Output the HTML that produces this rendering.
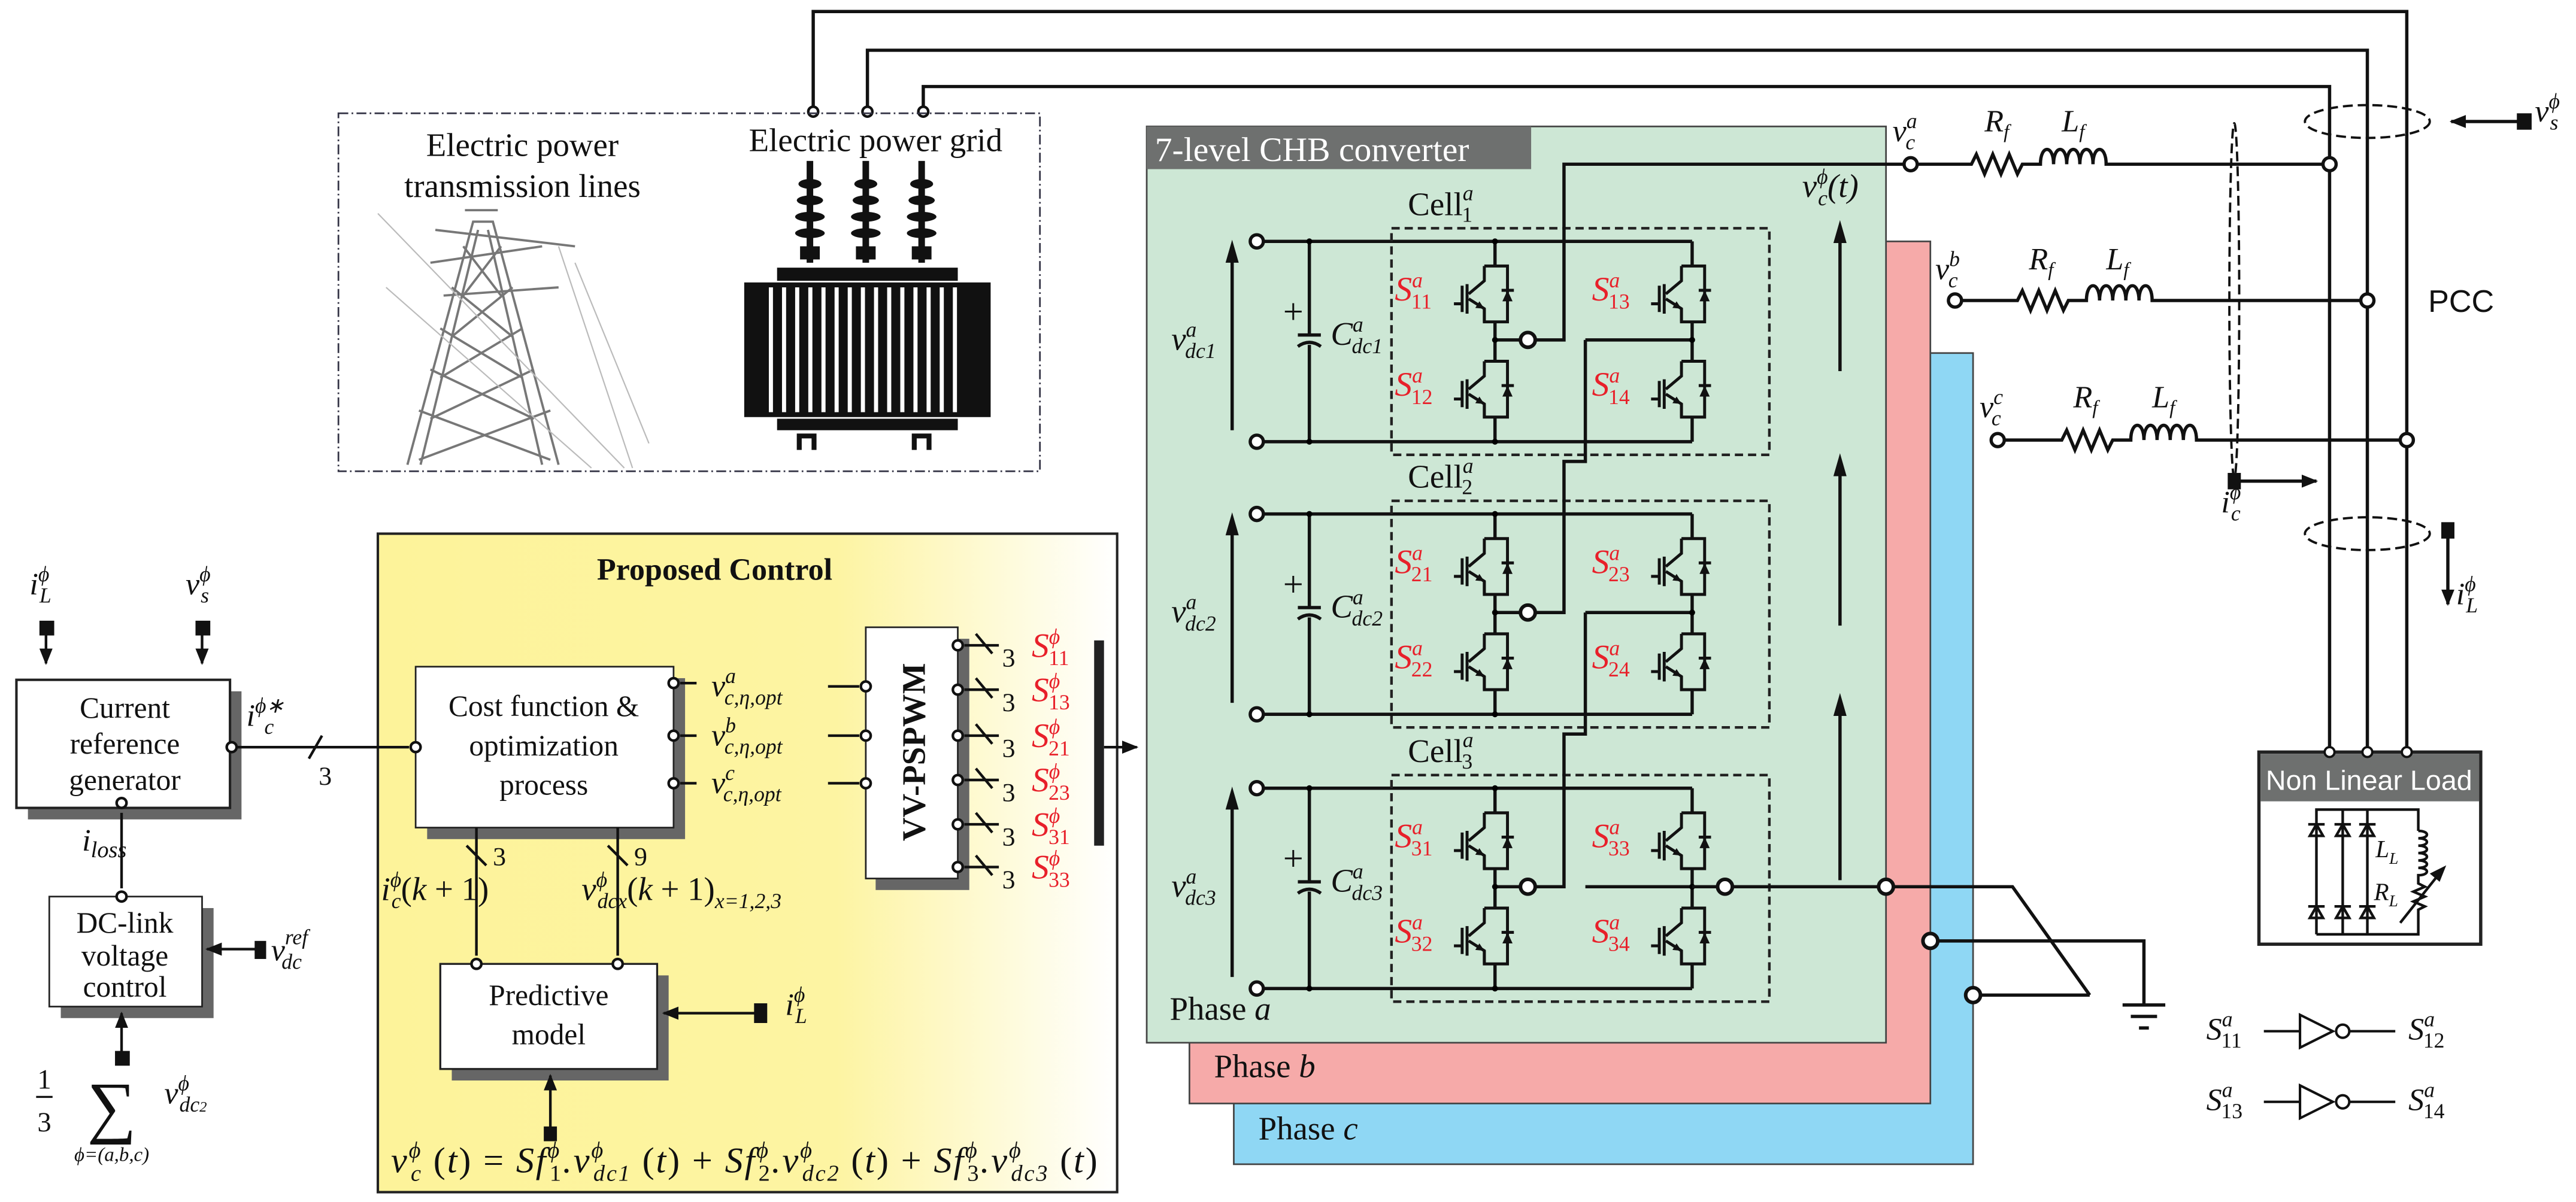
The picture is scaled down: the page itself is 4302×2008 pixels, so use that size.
<!DOCTYPE html>
<html><head><meta charset="utf-8"><style>
html,body{margin:0;padding:0;background:#fff}
svg{display:block}
text{font-family:"Liberation Serif",serif;fill:#111}
.i{font-style:italic}
g.r text, text.r{fill:#e8202a}
.s{font-family:"Liberation Sans",sans-serif}
</style></head><body>
<svg width="4302" height="2008" viewBox="0 0 1568 732" preserveAspectRatio="none" xmlns="http://www.w3.org/2000/svg">
<defs>
<linearGradient id="yg" x1="0" x2="1" y1="0" y2="0">
<stop offset="0" stop-color="#fdf39a"/><stop offset="0.62" stop-color="#fdf4a2"/><stop offset="1" stop-color="#ffffff"/>
</linearGradient>
<g id="sw" fill="none" stroke="#111" stroke-width="1.8">
<path d="M-6.5 0 H7.6 V34 H-6.5 V26 M-6.5 0 V9 L-16 17"/>
<path d="M-16 20 L-6.5 26 V34"/>
<path d="M-17 11 V29 M-20 12 V28 M-20 23 H-25"/>
<path d="M4 14.8 H11.5"/>
<polygon points="7.6,14.8 4.5,21.5 10.7,21.5" fill="#111" stroke="none"/>
<polygon points="-6.5,26 -12,25.5 -9.5,21.5" fill="#111" stroke="none"/>
</g>
<g id="cell">
<g fill="none" stroke="#111" stroke-width="2">
<path d="M769 147 H1030 M769 269 H1030"/>
<path d="M797 147 V204 M797 210 V269 M790 204 H804"/>
<path d="M790 211 Q797 206 804 211"/>
<path d="M910 147 V162 M910 196 V220 M910 254 V269 M910 207 H926"/>
<path d="M1030 147 V162 M1030 196 V220 M1030 254 V269 M1030 207 H965"/>
<path d="M750 262 V152"/>
</g>
<polygon points="750,146 746,160 754,160" fill="#111"/>
<circle cx="765" cy="147" r="4" fill="#fff" stroke="#111" stroke-width="2"/>
<circle cx="765" cy="269" r="4" fill="#fff" stroke="#111" stroke-width="2"/>
<circle cx="930" cy="207" r="4.5" fill="#fff" stroke="#111" stroke-width="2.2"/>
<circle cx="797" cy="147" r="1.8"/><circle cx="797" cy="269" r="1.8"/>
<circle cx="910" cy="147" r="1.8"/><circle cx="910" cy="269" r="1.8"/><circle cx="910" cy="207" r="1.8"/>
<circle cx="1030" cy="207" r="1.8"/>
<use href="#sw" x="910" y="162"/><use href="#sw" x="910" y="220"/>
<use href="#sw" x="1030" y="162"/><use href="#sw" x="1030" y="220"/>
<rect x="847" y="139" width="230" height="138" fill="none" stroke="#222" stroke-width="1.6" stroke-dasharray="5,3"/>
<text x="781" y="197" font-size="22">+</text>
</g>
<marker id="ah" markerWidth="10" markerHeight="8" refX="9" refY="4" orient="auto" markerUnits="userSpaceOnUse"><polygon points="0,0 10,4 0,8" fill="#111"/></marker>
</defs>

<!-- top lines -->
<g fill="none" stroke="#111" stroke-width="2">
<path d="M495 66 V7 H1465 V460"/>
<path d="M528 66 V30.6 H1441 V460"/>
<path d="M562 66 V52.7 H1418 V460"/>
</g>
<circle cx="495" cy="68" r="3" fill="#fff" stroke="#111" stroke-width="1.6"/>
<circle cx="528" cy="68" r="3" fill="#fff" stroke="#111" stroke-width="1.6"/>
<circle cx="562" cy="68" r="3" fill="#fff" stroke="#111" stroke-width="1.6"/>

<!-- grid box -->
<rect x="206" y="69" width="427" height="218" fill="none" stroke="#334" stroke-width="1" stroke-dasharray="6,2,1,2"/>
<text x="318" y="95" font-size="20" text-anchor="middle">Electric power</text>
<text x="318" y="120" font-size="20" text-anchor="middle">transmission lines</text>
<text x="533" y="92" font-size="20" text-anchor="middle">Electric power grid</text>
<!-- tower -->
<g stroke="#777" stroke-width="1.4" fill="none">
<path d="M248 283 L288 135 L300 135 L340 283"/>
<path d="M256 283 L291 140 M330 283 L297 140"/>
<path d="M255 250 L335 280 M262 225 L325 255 M268 200 L318 230 M275 175 L312 205 M282 150 L305 180 M335 250 L255 280 M325 225 L262 255 M318 200 L268 230 M312 175 L275 205 M305 150 L282 180"/>
<path d="M262 160 L330 150 M265 140 L350 150 M270 180 L340 175 M283 128 L303 128"/>
<path d="M230 130 L380 285 M235 175 L360 285 M340 150 L385 285 M350 160 L395 270" stroke="#bbb" stroke-width="0.8"/>
</g>
<!-- transformer -->
<g fill="#111">
<rect x="473" y="163" width="110" height="8"/>
<rect x="453" y="172" width="150" height="82"/>
<rect x="473" y="255" width="110" height="7"/>
<g fill="#fff"><rect x="468" y="175" width="2.5" height="76"/><rect x="476" y="175" width="2.5" height="76"/><rect x="484" y="175" width="2.5" height="76"/><rect x="492" y="175" width="2.5" height="76"/><rect x="500" y="175" width="2.5" height="76"/><rect x="508" y="175" width="2.5" height="76"/><rect x="516" y="175" width="2.5" height="76"/><rect x="524" y="175" width="2.5" height="76"/><rect x="532" y="175" width="2.5" height="76"/><rect x="540" y="175" width="2.5" height="76"/><rect x="548" y="175" width="2.5" height="76"/><rect x="556" y="175" width="2.5" height="76"/><rect x="564" y="175" width="2.5" height="76"/><rect x="572" y="175" width="2.5" height="76"/><rect x="580" y="175" width="2.5" height="76"/></g>
<path d="M485 264 h12 v10 h-3 v-7 h-6 v7 h-3z M555 264 h12 v10 h-3 v-7 h-6 v7 h-3z"/>
</g>
<g fill="#111">
<g id="ins"><rect x="491" y="98" width="4" height="62"/><ellipse cx="493" cy="112" rx="7" ry="3"/><ellipse cx="493" cy="122" rx="8" ry="3"/><ellipse cx="493" cy="132" rx="9" ry="3"/><ellipse cx="493" cy="142" rx="9" ry="3"/><rect x="487" y="150" width="12" height="8"/></g>
<use href="#ins" x="34"/><use href="#ins" x="68"/>
</g>

<!-- converter phases -->
<rect x="751" y="215" width="450" height="494" fill="#8fd7f4" stroke="#444" stroke-width="1"/>
<rect x="724" y="147" width="451" height="525" fill="#f6aaa9" stroke="#444" stroke-width="1"/>
<rect x="698" y="77" width="450" height="558" fill="#cde7d5" stroke="#444" stroke-width="1"/>
<text x="739" y="656" font-size="20">Phase <tspan class="i">b</tspan></text>
<text x="766" y="694" font-size="20">Phase <tspan class="i">c</tspan></text>
<text x="712" y="621" font-size="20">Phase <tspan class="i">a</tspan></text>
<rect x="698" y="77" width="234" height="26" fill="#6e706f"/>
<text x="703" y="98" font-size="21" style="fill:#fff">7-level CHB converter</text>

<use href="#cell"/>
<use href="#cell" y="166"/>
<use href="#cell" y="333"/>
<g fill="none" stroke="#111" stroke-width="2">
<path d="M934 207 H952 V100 H1159"/>
<path d="M965 207 V281 H952 V373 H934"/>
<path d="M965 373 V447 H952 V540 H934"/>
<path d="M1030 540 H1046 M1054 540 H1144 M1152 540 H1225 L1272 606"/>
<path d="M1179 573 H1305 V612 M1292 612 H1318 M1297 619 H1313 M1302 626 H1308"/>
<path d="M1205 606 H1272"/>
<path d="M1120 226 V140 M1120 381 V282 M1120 536 V428"/>
</g>
<polygon points="1120,134 1116,148 1124,148" fill="#111"/>
<polygon points="1120,276 1116,290 1124,290" fill="#111"/>
<polygon points="1120,422 1116,436 1124,436" fill="#111"/>
<circle cx="1050" cy="540" r="4.5" fill="#fff" stroke="#111" stroke-width="2.2"/>
<circle cx="1148" cy="540" r="4.5" fill="#fff" stroke="#111" stroke-width="2.2"/>
<circle cx="1175" cy="573" r="4.5" fill="#fff" stroke="#111" stroke-width="2.2"/>
<circle cx="1201" cy="606" r="4.5" fill="#fff" stroke="#111" stroke-width="2.2"/>

<!-- cell labels -->
<g font-size="20">
<text x="857" y="131">Cell<tspan font-size="13" dy="-9" class="i">a</tspan><tspan font-size="13" dx="-7" dy="13">1</tspan></text>
<text x="857" y="297">Cell<tspan font-size="13" dy="-9" class="i">a</tspan><tspan font-size="13" dx="-7" dy="13">2</tspan></text>
<text x="857" y="464">Cell<tspan font-size="13" dy="-9" class="i">a</tspan><tspan font-size="13" dx="-7" dy="13">3</tspan></text>
</g>
<g font-size="20" class="i">
<text x="713" y="213">v<tspan font-size="13" dy="-8">a</tspan><tspan font-size="13" dx="-7" dy="13">dc1</tspan></text>
<text x="713" y="379">v<tspan font-size="13" dy="-8">a</tspan><tspan font-size="13" dx="-7" dy="13">dc2</tspan></text>
<text x="713" y="546">v<tspan font-size="13" dy="-8">a</tspan><tspan font-size="13" dx="-7" dy="13">dc3</tspan></text>
<text x="810" y="210">C<tspan font-size="13" dy="-8">a</tspan><tspan font-size="13" dx="-7" dy="13">dc1</tspan></text>
<text x="810" y="376">C<tspan font-size="13" dy="-8">a</tspan><tspan font-size="13" dx="-7" dy="13">dc2</tspan></text>
<text x="810" y="543">C<tspan font-size="13" dy="-8">a</tspan><tspan font-size="13" dx="-7" dy="13">dc3</tspan></text>
<text x="1097" y="120">v<tspan font-size="13" dy="-8">ϕ</tspan><tspan font-size="13" dx="-6" dy="13">c</tspan><tspan dy="-5">(t)</tspan></text>
</g>
<g font-size="21" class="i r">
<text x="849" y="183">S<tspan font-size="13" dy="-8">a</tspan><tspan font-size="13" dx="-7" dy="13" style="font-style:normal">11</tspan></text>
<text x="849" y="241">S<tspan font-size="13" dy="-8">a</tspan><tspan font-size="13" dx="-7" dy="13" style="font-style:normal">12</tspan></text>
<text x="969" y="183">S<tspan font-size="13" dy="-8">a</tspan><tspan font-size="13" dx="-7" dy="13" style="font-style:normal">13</tspan></text>
<text x="969" y="241">S<tspan font-size="13" dy="-8">a</tspan><tspan font-size="13" dx="-7" dy="13" style="font-style:normal">14</tspan></text>
<text x="849" y="349">S<tspan font-size="13" dy="-8">a</tspan><tspan font-size="13" dx="-7" dy="13" style="font-style:normal">21</tspan></text>
<text x="849" y="407">S<tspan font-size="13" dy="-8">a</tspan><tspan font-size="13" dx="-7" dy="13" style="font-style:normal">22</tspan></text>
<text x="969" y="349">S<tspan font-size="13" dy="-8">a</tspan><tspan font-size="13" dx="-7" dy="13" style="font-style:normal">23</tspan></text>
<text x="969" y="407">S<tspan font-size="13" dy="-8">a</tspan><tspan font-size="13" dx="-7" dy="13" style="font-style:normal">24</tspan></text>
<text x="849" y="516">S<tspan font-size="13" dy="-8">a</tspan><tspan font-size="13" dx="-7" dy="13" style="font-style:normal">31</tspan></text>
<text x="849" y="574">S<tspan font-size="13" dy="-8">a</tspan><tspan font-size="13" dx="-7" dy="13" style="font-style:normal">32</tspan></text>
<text x="969" y="516">S<tspan font-size="13" dy="-8">a</tspan><tspan font-size="13" dx="-7" dy="13" style="font-style:normal">33</tspan></text>
<text x="969" y="574">S<tspan font-size="13" dy="-8">a</tspan><tspan font-size="13" dx="-7" dy="13" style="font-style:normal">34</tspan></text>
</g>

<!-- output filters -->
<g fill="none" stroke="#111" stroke-width="2">
<path d="M1167 100 H1200 l3 -6 l5 12 l5 -12 l5 12 l5 -12 l5 12 l3 -6 H1242 c0 -12 8 -12 8 0 c0 -12 8 -12 8 0 c0 -12 8 -12 8 0 c0 -12 8 -12 8 0 c0 -12 8 -12 8 0 H1414"/>
<path d="M1194 183 H1228 l3 -6 l5 12 l5 -12 l5 12 l5 -12 l5 12 l3 -6 H1270 c0 -12 8 -12 8 0 c0 -12 8 -12 8 0 c0 -12 8 -12 8 0 c0 -12 8 -12 8 0 c0 -12 8 -12 8 0 H1437"/>
<path d="M1220 268 H1255 l3 -6 l5 12 l5 -12 l5 12 l5 -12 l5 12 l3 -6 H1297 c0 -12 8 -12 8 0 c0 -12 8 -12 8 0 c0 -12 8 -12 8 0 c0 -12 8 -12 8 0 c0 -12 8 -12 8 0 H1461"/>
</g>
<g fill="#fff" stroke="#111" stroke-width="2">
<circle cx="1163" cy="100" r="4"/><circle cx="1190" cy="183" r="4"/><circle cx="1216" cy="268" r="4"/>
<circle cx="1418" cy="100" r="4"/><circle cx="1441" cy="183" r="4"/><circle cx="1465" cy="268" r="4"/>
</g>
<g font-size="19" class="i">
<text x="1152" y="86">v<tspan font-size="13" dy="-8">a</tspan><tspan font-size="13" dx="-7" dy="13">c</tspan></text>
<text x="1178" y="170">v<tspan font-size="13" dy="-8">b</tspan><tspan font-size="13" dx="-7" dy="13">c</tspan></text>
<text x="1205" y="254">v<tspan font-size="13" dy="-8">c</tspan><tspan font-size="13" dx="-7" dy="13">c</tspan></text>
<text x="1208" y="80">R<tspan font-size="12" dy="4">f</tspan></text>
<text x="1255" y="80">L<tspan font-size="12" dy="4">f</tspan></text>
<text x="1235" y="164">R<tspan font-size="12" dy="4">f</tspan></text>
<text x="1282" y="164">L<tspan font-size="12" dy="4">f</tspan></text>
<text x="1262" y="248">R<tspan font-size="12" dy="4">f</tspan></text>
<text x="1310" y="248">L<tspan font-size="12" dy="4">f</tspan></text>
<text x="1543" y="74">v<tspan font-size="13" dy="-8">ϕ</tspan><tspan font-size="13" dx="-6" dy="13">s</tspan></text>
<text x="1352" y="312">i<tspan font-size="13" dy="-8">ϕ</tspan><tspan font-size="13" dx="-6" dy="13">c</tspan></text>
<text x="1495" y="368">i<tspan font-size="13" dy="-8">ϕ</tspan><tspan font-size="13" dx="-6" dy="13">L</tspan></text>
</g>
<text x="1478" y="190" font-size="19" class="s">PCC</text>
<g fill="none" stroke="#111" stroke-width="1.4" stroke-dasharray="6,3">
<ellipse cx="1441" cy="74" rx="38" ry="10"/>
<ellipse cx="1441" cy="325" rx="38" ry="10"/>
<ellipse cx="1360" cy="183" rx="3" ry="108"/>
</g>
<g stroke="#111" stroke-width="2" fill="none">
<path d="M1533 74 H1492" marker-end="url(#ah)"/>
<path d="M1360 293 H1410" marker-end="url(#ah)"/>
<path d="M1490 325 V368" marker-end="url(#ah)"/>
</g>
<rect x="1532" y="69" width="9" height="10" fill="#111"/>
<rect x="1356" y="288" width="8" height="10" fill="#111"/>
<rect x="1486" y="318" width="8" height="10" fill="#111"/>

<!-- Non linear load -->
<rect x="1375" y="458" width="135" height="117" fill="#fff" stroke="#222" stroke-width="2"/>
<rect x="1376" y="459" width="133" height="29" fill="#6e706f"/>
<text x="1442" y="481" font-size="17" class="s" text-anchor="middle" style="fill:#fff">Non Linear Load</text>
<g fill="#fff" stroke="#111" stroke-width="1.4">
<circle cx="1418" cy="458" r="3"/><circle cx="1441" cy="458" r="3"/><circle cx="1465" cy="458" r="3"/>
</g>
<g fill="none" stroke="#111" stroke-width="1.6">
<path d="M1410 569 V493 H1472 V506 M1410 569 H1472 V555 M1426 493 V569 M1441 493 V569"/>
<path d="M1405 502 h10 M1421 502 h10 M1436 502 h10 M1405 552 h10 M1421 552 h10 M1436 552 h10"/>
<path d="M1410 502 l-4 7 h8z M1426 502 l-4 7 h8z M1441 502 l-4 7 h8z M1410 552 l-4 7 h8z M1426 552 l-4 7 h8z M1441 552 l-4 7 h8z"/>
<path d="M1472 506 c7 0 7 4.5 0 4.5 c7 0 7 4.5 0 4.5 c7 0 7 4.5 0 4.5 c7 0 7 4.5 0 4.5 c7 0 7 4.5 0 4.5 c7 0 7 4.5 0 4.5 V538 l4 2 l-7 3 l7 3 l-7 3 l7 3 l-4 2 V555"/>
<path d="M1461 562 L1484 533"/>
</g>
<polygon points="1489,527 1479,532 1485,537" fill="#111"/>
<text x="1446" y="522" font-size="15" class="i">L<tspan font-size="10" dy="4">L</tspan></text>
<text x="1445" y="548" font-size="15" class="i">R<tspan font-size="10" dy="4">L</tspan></text>

<!-- inverters -->
<g fill="none" stroke="#111" stroke-width="1.5">
<path d="M1378 628 H1400 M1400 618 V638 L1420 628 Z M1430 628 H1458"/>
<path d="M1378 671 H1400 M1400 661 V681 L1420 671 Z M1430 671 H1458"/>
<circle cx="1426" cy="628" r="4"/><circle cx="1426" cy="671" r="4"/>
</g>
<g font-size="19" class="i">
<text x="1343" y="633">S<tspan font-size="13" dy="-8">a</tspan><tspan font-size="13" dx="-7" dy="13" style="font-style:normal">11</tspan></text>
<text x="1466" y="633">S<tspan font-size="13" dy="-8">a</tspan><tspan font-size="13" dx="-7" dy="13" style="font-style:normal">12</tspan></text>
<text x="1343" y="676">S<tspan font-size="13" dy="-8">a</tspan><tspan font-size="13" dx="-7" dy="13" style="font-style:normal">13</tspan></text>
<text x="1466" y="676">S<tspan font-size="13" dy="-8">a</tspan><tspan font-size="13" dx="-7" dy="13" style="font-style:normal">14</tspan></text>
</g>

<!-- Proposed control -->
<rect x="230" y="325" width="450" height="401" fill="url(#yg)" stroke="#222" stroke-width="1.5"/>
<text x="435" y="353" font-size="19" font-weight="bold" text-anchor="middle">Proposed Control</text>
<rect x="17" y="421" width="130" height="78" fill="#666"/>
<rect x="37" y="553" width="93" height="67" fill="#666"/>
<rect x="260" y="413" width="157" height="98" fill="#666"/>
<rect x="275" y="594" width="132" height="64" fill="#666"/>
<rect x="533" y="389" width="57" height="153" fill="#666"/>
<rect x="10" y="414" width="130" height="78" fill="#fff" stroke="#222" stroke-width="1.5"/>
<rect x="30" y="546" width="93" height="67" fill="#fff" stroke="#222" stroke-width="1"/>
<rect x="253" y="406" width="157" height="98" fill="#fff" stroke="#222" stroke-width="1"/>
<rect x="268" y="587" width="132" height="64" fill="#fff" stroke="#222" stroke-width="1.2"/>
<rect x="527" y="382" width="56" height="153" fill="#fff" stroke="#222" stroke-width="1"/>
<g font-size="18" text-anchor="middle">
<text x="76" y="437">Current</text><text x="76" y="459">reference</text><text x="76" y="481">generator</text>
<text x="76" y="568">DC-link</text><text x="76" y="588">voltage</text><text x="76" y="607">control</text>
<text x="331" y="436">Cost function &amp;</text><text x="331" y="460">optimization</text><text x="331" y="484">process</text>
<text x="334" y="612">Predictive</text><text x="334" y="636">model</text>
</g>
<text x="0" y="0" font-size="20" font-weight="bold" text-anchor="middle" transform="translate(563,458) rotate(-90)">VV-PSPWM</text>
<rect x="666" y="390" width="6" height="125" fill="#222"/>

<g fill="none" stroke="#111" stroke-width="1.6">
<path d="M144 455 H249 M188 462 L196 448"/>
<path d="M74 495 V541"/>
<path d="M414 416 H424 M414 448 H424 M414 477 H424"/>
<path d="M504 418 H523 M504 448 H523 M504 477 H523"/>
<path d="M290 504 V582 M376 504 V582 M284 515 L296 527 M370 515 L382 527"/>
<path d="M587 393 H608 M587 420 H608 M587 448 H608 M587 475 H608 M587 502 H608 M587 528 H608"/>
<path d="M594 386 L604 398 M594 413 L604 425 M594 441 L604 453 M594 468 L604 480 M594 495 L604 507 M594 521 L604 533"/>
<path d="M672 455 H692" marker-end="url(#ah)"/>
<path d="M28 384 V404" marker-end="url(#ah)"/>
<path d="M123 384 V404" marker-end="url(#ah)"/>
<path d="M158 578 H126" marker-end="url(#ah)"/>
<path d="M74 642 V617" marker-end="url(#ah)"/>
<path d="M462 617 H404" marker-end="url(#ah)"/>
<path d="M335 688 V655" marker-end="url(#ah)"/>
</g>
<rect x="24" y="378" width="9" height="9" fill="#111"/>
<rect x="119" y="378" width="9" height="9" fill="#111"/>
<rect x="155" y="573" width="7" height="11" fill="#111"/>
<rect x="70" y="640" width="9" height="9" fill="#111"/>
<rect x="459" y="611" width="8" height="12" fill="#111"/>
<rect x="331" y="686" width="8" height="9" fill="#111"/>
<g fill="#fff" stroke="#111" stroke-width="1.6">
<circle cx="141" cy="455" r="3"/><circle cx="253" cy="455" r="3"/><circle cx="74" cy="489" r="3"/><circle cx="74" cy="546" r="3"/>
<circle cx="410" cy="416" r="3"/><circle cx="410" cy="448" r="3"/><circle cx="410" cy="477" r="3"/>
<circle cx="527" cy="418" r="3"/><circle cx="527" cy="448" r="3"/><circle cx="527" cy="477" r="3"/>
<circle cx="583" cy="393" r="3"/><circle cx="583" cy="420" r="3"/><circle cx="583" cy="448" r="3"/><circle cx="583" cy="475" r="3"/><circle cx="583" cy="502" r="3"/><circle cx="583" cy="528" r="3"/>
<circle cx="290" cy="587" r="3"/><circle cx="376" cy="587" r="3"/>
</g>
<g font-size="16" text-anchor="middle">
<text x="614" y="406">3</text><text x="614" y="433">3</text><text x="614" y="461">3</text><text x="614" y="488">3</text><text x="614" y="515">3</text><text x="614" y="541">3</text>
<text x="198" y="478">3</text><text x="304" y="527">3</text><text x="390" y="527">9</text>
</g>
<g font-size="21" class="i r">
<text x="628" y="400">S<tspan font-size="13" dy="-8">ϕ</tspan><tspan font-size="13" dx="-7" dy="13" style="font-style:normal">11</tspan></text>
<text x="628" y="427">S<tspan font-size="13" dy="-8">ϕ</tspan><tspan font-size="13" dx="-7" dy="13" style="font-style:normal">13</tspan></text>
<text x="628" y="455">S<tspan font-size="13" dy="-8">ϕ</tspan><tspan font-size="13" dx="-7" dy="13" style="font-style:normal">21</tspan></text>
<text x="628" y="482">S<tspan font-size="13" dy="-8">ϕ</tspan><tspan font-size="13" dx="-7" dy="13" style="font-style:normal">23</tspan></text>
<text x="628" y="509">S<tspan font-size="13" dy="-8">ϕ</tspan><tspan font-size="13" dx="-7" dy="13" style="font-style:normal">31</tspan></text>
<text x="628" y="535">S<tspan font-size="13" dy="-8">ϕ</tspan><tspan font-size="13" dx="-7" dy="13" style="font-style:normal">33</tspan></text>
</g>
<g font-size="19" class="i">
<text x="18" y="362">i<tspan font-size="13" dy="-8">ϕ</tspan><tspan font-size="13" dx="-6" dy="13">L</tspan></text>
<text x="113" y="362">v<tspan font-size="13" dy="-8">ϕ</tspan><tspan font-size="13" dx="-6" dy="13">s</tspan></text>
<text x="150" y="442">i<tspan font-size="13" dy="-8">ϕ∗</tspan><tspan font-size="13" dx="-12" dy="13">c</tspan></text>
<text x="50" y="518">i<tspan font-size="14" dy="4">loss</tspan></text>
<text x="165" y="585">v<tspan font-size="13" dy="-10">ref</tspan><tspan font-size="13" dx="-16" dy="15">dc</tspan></text>
<text x="433" y="424">v<tspan font-size="13" dy="-8">a</tspan><tspan font-size="13" dx="-7" dy="13">c,η,opt</tspan></text>
<text x="433" y="454">v<tspan font-size="13" dy="-8">b</tspan><tspan font-size="13" dx="-7" dy="13">c,η,opt</tspan></text>
<text x="433" y="483">v<tspan font-size="13" dy="-8">c</tspan><tspan font-size="13" dx="-7" dy="13">c,η,opt</tspan></text>
<text x="232" y="548" font-size="20">i<tspan font-size="13" dy="-8">ϕ</tspan><tspan font-size="13" dx="-6" dy="13">c</tspan><tspan dy="-5" style="font-style:normal">(</tspan>k<tspan style="font-style:normal"> + 1)</tspan></text>
<text x="354" y="548" font-size="20">v<tspan font-size="13" dy="-8">ϕ</tspan><tspan font-size="13" dx="-6" dy="13">dcx</tspan><tspan dy="-5" style="font-style:normal">(</tspan>k<tspan style="font-style:normal"> + 1)</tspan><tspan font-size="13" dy="5">x=1,2,3</tspan></text>
<text x="478" y="618">i<tspan font-size="13" dy="-8">ϕ</tspan><tspan font-size="13" dx="-6" dy="13">L</tspan></text>
<text x="100" y="672">v<tspan font-size="13" dy="-8">ϕ</tspan><tspan font-size="13" dx="-6" dy="13">dc<tspan font-size="9">2</tspan></tspan></text>
<text x="238" y="714" font-size="22" textLength="430" lengthAdjust="spacing">v<tspan font-size="14" dy="-9">ϕ</tspan><tspan font-size="14" dx="-7" dy="14">c</tspan><tspan dy="-5" style="font-style:normal"> (</tspan>t<tspan style="font-style:normal">) = </tspan>Sf<tspan font-size="14" dy="-9">ϕ</tspan><tspan font-size="14" dx="-7" dy="14" style="font-style:normal">1</tspan><tspan dy="-5">.v</tspan><tspan font-size="14" dy="-9">ϕ</tspan><tspan font-size="14" dx="-7" dy="14">dc1</tspan><tspan dy="-5" style="font-style:normal"> (</tspan>t<tspan style="font-style:normal">) + </tspan>Sf<tspan font-size="14" dy="-9">ϕ</tspan><tspan font-size="14" dx="-7" dy="14" style="font-style:normal">2</tspan><tspan dy="-5">.v</tspan><tspan font-size="14" dy="-9">ϕ</tspan><tspan font-size="14" dx="-7" dy="14">dc2</tspan><tspan dy="-5" style="font-style:normal"> (</tspan>t<tspan style="font-style:normal">) + </tspan>Sf<tspan font-size="14" dy="-9">ϕ</tspan><tspan font-size="14" dx="-7" dy="14" style="font-style:normal">3</tspan><tspan dy="-5">.v</tspan><tspan font-size="14" dy="-9">ϕ</tspan><tspan font-size="14" dx="-7" dy="14">dc3</tspan><tspan dy="-5" style="font-style:normal"> (</tspan>t<tspan style="font-style:normal">)</tspan></text>
</g>
<text x="27" y="663" font-size="17" text-anchor="middle">1</text>
<path d="M22 668 H32" stroke="#111" stroke-width="1.2"/>
<text x="27" y="689" font-size="17" text-anchor="middle">3</text>
<text x="68" y="688" font-size="42" text-anchor="middle">∑</text>
<text x="68" y="707" font-size="12" class="i" text-anchor="middle">ϕ=(a,b,c)</text>
</svg>
</body></html>
